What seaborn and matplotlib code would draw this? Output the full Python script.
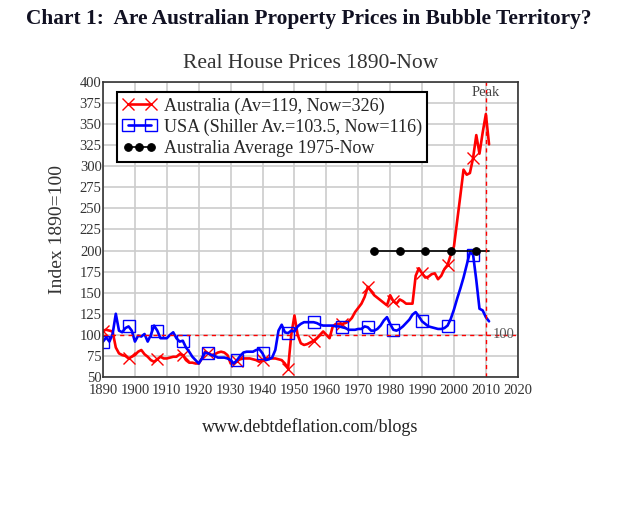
import numpy as np
import pandas as pd
import matplotlib
matplotlib.use("Agg")
import matplotlib.pyplot as plt
import seaborn as sns
from matplotlib.legend_handler import HandlerLine2D

years = list(range(1890, 2012))

australia = [105, 106, 105, 104, 85, 78, 76, 75, 72, 74,
             76, 80, 82, 77, 74, 70, 68, 71, 74, 72,
             72, 73, 74, 74, 77, 76, 70, 67, 67, 66,
             66, 72, 80, 78, 76, 77, 79, 80, 79, 76,
             66, 66, 69, 71, 72, 72, 72, 71, 70, 68,
             70, 72, 72, 72, 72, 71, 70, 66, 60, 100,
             123, 100, 90, 88, 89, 91, 93, 96, 100, 104,
             100, 96, 110, 113, 113, 113, 114, 116, 120, 127,
             132, 137, 145, 157, 152, 147, 144, 141, 138, 135,
             147, 140, 137, 142, 140, 137, 137, 137, 170, 179,
             173, 168, 169, 172, 173, 166, 170, 178, 183, 195,
             205, 235, 265, 296, 290, 292, 310, 337, 315, 340,
             362, 326]

usa = [92, 97, 92, 101, 125, 105, 103, 108, 110, 105,
       92, 99, 98, 101, 92, 100, 111, 105, 96, 96,
       96, 100, 103, 96, 92, 93, 85, 80, 74, 70,
       66, 72, 79, 78, 76, 75, 73, 73, 73, 72,
       70, 66, 70, 75, 79, 80, 80, 80, 82, 83,
       78, 70, 71, 73, 82, 105, 112, 103, 102, 105,
       104, 110, 113, 115, 115, 115, 115, 114, 112, 111,
       111, 111, 111, 110, 110, 109, 108, 106, 106, 106,
       107, 107, 110, 109, 105, 105, 107, 111, 117, 121,
       113, 106, 105, 107, 110, 114, 118, 124, 127, 122,
       116, 113, 110, 109, 108, 107, 107, 108, 111, 119,
       130, 143, 155, 168, 183, 198, 195, 165, 131, 129,
       121, 116]

avg_years = list(range(1975, 2012))
avg_value = 200
peak_year = 2010

df = pd.DataFrame({"year": years, "Australia": australia, "USA": usa})
avg_df = pd.DataFrame({"year": avg_years, "avg": [avg_value] * len(avg_years)})

# markers roughly every 8.3 points, like the original
marks = [int(round(8.3 * k)) for k in range(15)]

sns.set_style("whitegrid", {"grid.color": "#cccccc", "axes.edgecolor": "#333333"})
plt.rcParams["font.family"] = ["Liberation Serif", "DejaVu Serif"]

fig = plt.figure(figsize=(6.4, 5.05), dpi=100)
ax = fig.add_axes([0.161, 0.2535, 0.648, 0.5841])

sns.lineplot(data=df, x="year", y="Australia", ax=ax, color="#ff0000", linewidth=1.9,
             marker="x", markersize=8, markeredgewidth=1.0, markeredgecolor="#ff0000",
             markevery=marks, label="Australia (Av=119, Now=326)")
sns.lineplot(data=df, x="year", y="USA", ax=ax, color="#0000ff", linewidth=1.9,
             marker="s", markersize=8, markerfacecolor="none", markeredgecolor="#0000ff",
             markeredgewidth=1.0, markevery=marks,
             label="USA (Shiller Av.=103.5, Now=116)")
sns.lineplot(data=avg_df, x="year", y="avg", ax=ax, color="black", linewidth=1.2,
             marker="o", markersize=5.5, markeredgecolor="black", markevery=slice(0, None, 8),
             label="Australia Average 1975-Now")

ax.axhline(100, color="#ff0000", linestyle=(0, (3, 3)), linewidth=1.0)
ax.axvline(peak_year, color="#ff0000", linestyle=(0, (3, 3)), linewidth=1.0)
ax.text(peak_year, 387, "Peak", ha="center", va="center", fontsize=10.5, color="#444444")
ax.text(2012, 100, "100", ha="left", va="center", fontsize=10.5, color="#555555")

ax.set_xlim(1890, 2020)
ax.set_ylim(50, 400)
ax.set_xticks(range(1890, 2021, 10))
ax.set_yticks(range(50, 401, 25))
ax.tick_params(length=0, labelsize=10.5, labelcolor="#333333")
ax.tick_params(axis="y", pad=1)
ax.tick_params(axis="x", pad=5)
ax.grid(True, color="#cccccc", linewidth=1.2)
for s in ax.spines.values():
    s.set_linewidth(1.2)
    s.set_color("#333333")

ax.set_xlabel("")
ax.set_ylabel("Index 1890=100", fontsize=14, color="#333333", labelpad=10)
ax.set_title("Real House Prices 1890-Now", fontsize=15.5, color="#333333", pad=10)

leg = ax.legend(loc="upper left", bbox_to_anchor=(0.02, 0.985), fontsize=13,
                frameon=True, fancybox=False, framealpha=1, edgecolor="black",
                handlelength=1.9, borderpad=0.3, labelspacing=0.22, handletextpad=0.4,
                borderaxespad=0.3, numpoints=2,
                handler_map={ax.get_lines()[2]: HandlerLine2D(numpoints=3)})
leg.get_frame().set_linewidth(1.5)

fig.text(0.04, 0.962, "Chart 1:  Are Australian Property Prices in Bubble Territory?",
         fontsize=15.4, fontweight="bold", color="#111122", ha="left", va="center")
fig.text(0.485, 0.155, "www.debtdeflation.com/blogs", fontsize=13, color="#222222",
         ha="center", va="center")

fig.savefig("out.png", dpi=100)
